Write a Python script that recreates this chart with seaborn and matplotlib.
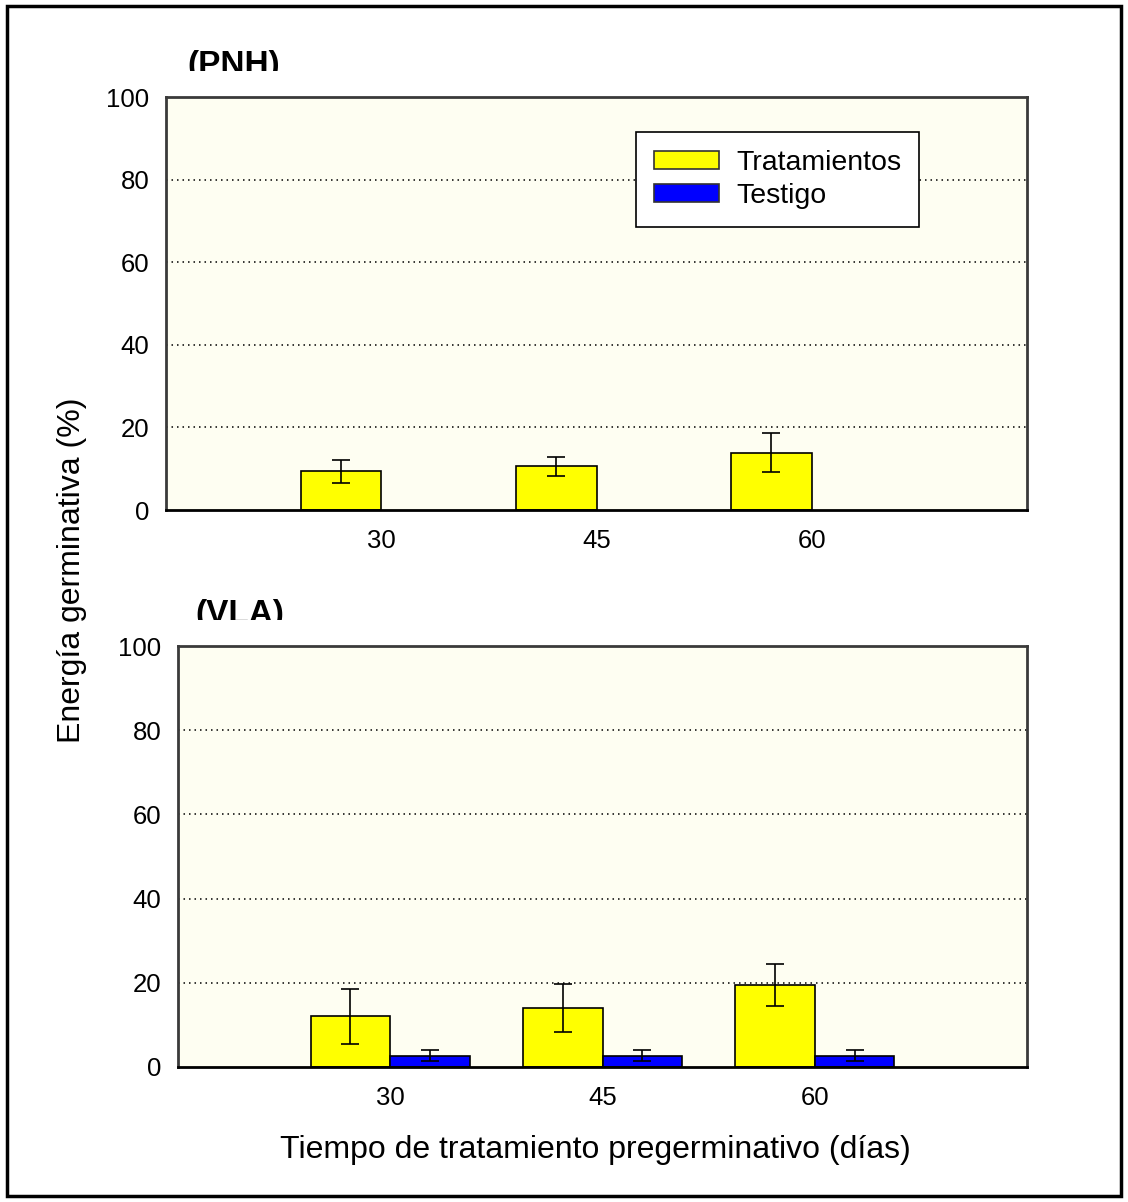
import matplotlib
matplotlib.use("Agg")
import matplotlib.pyplot as plt
from matplotlib.patches import Patch, Rectangle
from matplotlib.transforms import Bbox, TransformedBbox
import numpy as np
import pandas as pd
import seaborn as sns

# ---- data ----
dias = ["30", "45", "60"]
series = ["Tratamientos", "Testigo"]

pnh_trat = [9.4, 10.6, 13.9]
pnh_trat_err = [2.8, 2.3, 4.7]

vla_trat = [12.0, 14.0, 19.5]
vla_trat_err = [6.6, 5.6, 5.0]
vla_test = [2.7, 2.7, 2.7]
vla_test_err = [1.35, 1.35, 1.35]

y_ticks = [0, 20, 40, 60, 80, 100]

# ---- style ----
sns.set_theme(style="white")
plt.rcParams["font.family"] = ["Liberation Sans", "DejaVu Sans"]
plt.rcParams["text.color"] = "black"

colors = {"Tratamientos": "#FFFF00", "Testigo": "#0000FF"}
face = "#FEFEF2"

W, H = 1128, 1202
fig = plt.figure(figsize=(W / 100, H / 100), dpi=100)


def frac_box(left, top, right, bottom):
    return [left / W, 1 - bottom / H, (right - left) / W, (bottom - top) / H]


ax_top = fig.add_axes(frac_box(166, 97, 1027, 510))
ax_bot = fig.add_axes(frac_box(178, 646, 1027, 1067))

pnh = pd.DataFrame({"dias": dias, "serie": "Tratamientos", "valor": pnh_trat})
vla = pd.concat([
    pd.DataFrame({"dias": dias, "serie": "Tratamientos", "valor": vla_trat}),
    pd.DataFrame({"dias": dias, "serie": "Testigo", "valor": vla_test}),
], ignore_index=True)

errs_pnh = {("Tratamientos", d): e for d, e in zip(dias, pnh_trat_err)}
errs_vla = {("Tratamientos", d): e for d, e in zip(dias, vla_trat_err)}
errs_vla.update({("Testigo", d): e for d, e in zip(dias, vla_test_err)})


def draw_panel(ax, df, errs):
    sns.barplot(data=df, x="dias", y="valor", hue="serie", order=dias,
                hue_order=series, palette=colors, width=0.75, dodge=True,
                saturation=1, errorbar=None, edgecolor="black",
                linewidth=1.2, legend=False, ax=ax)
    # error bars at each bar's centre
    for bar in ax.patches:
        h = bar.get_height()
        if not np.isfinite(h) or bar.get_width() == 0:
            continue
        xc = bar.get_x() + bar.get_width() / 2
        idx = int(round(xc))
        serie = "Tratamientos" if xc < idx else "Testigo"
        e = errs.get((serie, dias[idx]))
        if e is None:
            continue
        ax.errorbar(xc, h, yerr=e, fmt="none", ecolor="black",
                    elinewidth=1.2, capsize=6.5, capthick=1.2, zorder=5)
    ax.set_xlim(-1, 3)
    ax.set_ylim(0, 100)
    ax.set_yticks(y_ticks)
    ax.set_facecolor(face)
    ax.set_xlabel("")
    ax.set_ylabel("")
    ax.tick_params(axis="both", length=0, labelsize=18.5, colors="black")
    ax.tick_params(axis="y", pad=12)
    ax.tick_params(axis="x", pad=14)
    for yv in [20, 40, 60, 80]:
        ax.axhline(yv, color="black", lw=1.1, ls=(0, (1, 2.6)), zorder=0.5)
    for side in ["left", "top", "right"]:
        ax.spines[side].set_color("#3a3a3a")
        ax.spines[side].set_linewidth(2)
        ax.spines[side].set_visible(True)
    ax.spines["bottom"].set_color("black")
    ax.spines["bottom"].set_linewidth(2)
    ax.spines["bottom"].set_visible(True)


draw_panel(ax_top, pnh, errs_pnh)
draw_panel(ax_bot, vla, errs_vla)

# legend
handles = [Patch(facecolor=colors[s], edgecolor="#333333", linewidth=1.2, label=s)
           for s in series]
leg = ax_top.legend(handles=handles, loc="upper left",
                    bbox_to_anchor=(0.546, 0.915), borderaxespad=0,
                    fontsize=20.5, frameon=True, fancybox=False,
                    handlelength=2.3, handleheight=0.6, handletextpad=0.6,
                    labelspacing=0.25, borderpad=0.62, labelcolor="black")
leg.get_frame().set_edgecolor("black")
leg.get_frame().set_linewidth(1.2)
leg.get_frame().set_facecolor("white")
leg.get_frame().set_alpha(1)

# panel titles, trimmed at the lower edge
for txt, left, base, cut in [("(PNH)", 187, 74, 71), ("(VLA)", 195, 623, 620)]:
    t = fig.text(left / W, 1 - base / H, txt, fontsize=24, fontweight="bold",
                 ha="left", va="baseline", color="black")
    t.set_clip_box(TransformedBbox(Bbox([[0, 1 - cut / H], [1, 1]]),
                                   fig.transFigure))
    t.set_clip_on(True)

# shared axis labels
fig.text(72 / W, 1 - 570 / H, "Energía germinativa (%)", rotation=90,
         fontsize=23, ha="center", va="center", color="black")
fig.text(595 / W, 1 - 1150 / H, "Tiempo de tratamiento pregerminativo (días)",
         fontsize=23, ha="center", va="center", color="black")

# outer frame
fig.patches.append(Rectangle((7 / W, 6 / H), (1121 - 7) / W, (1196 - 6) / H,
                             transform=fig.transFigure, fill=False,
                             edgecolor="black", linewidth=2.5))

fig.savefig("out.png", dpi=100, facecolor="white")
